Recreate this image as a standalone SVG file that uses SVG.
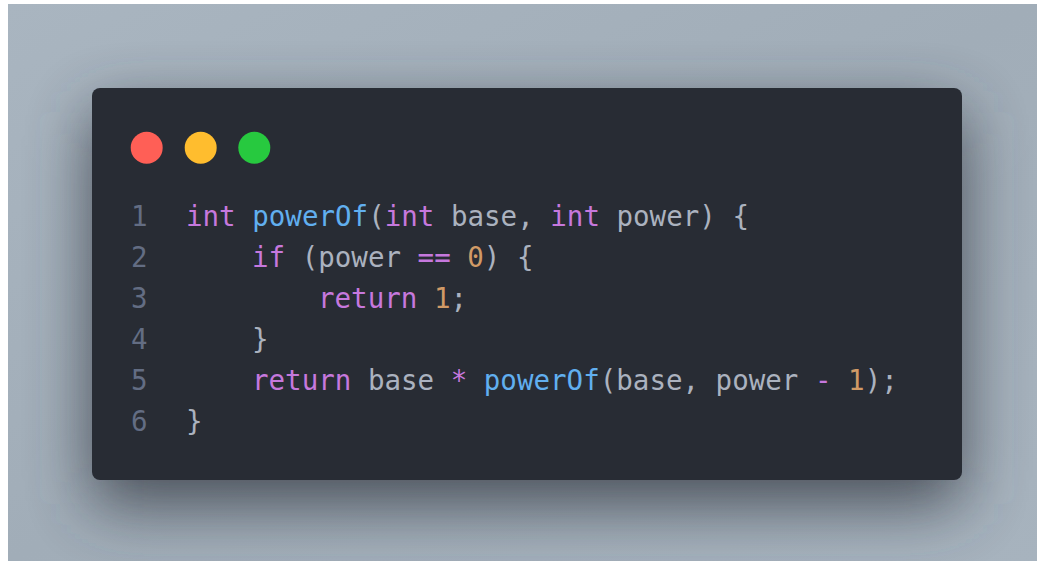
<svg xmlns="http://www.w3.org/2000/svg" width="1037" height="561" viewBox="0 0 1037 561">
  <style>
    .code { font-family: "DejaVu Sans Mono", "Liberation Mono", monospace; font-size: 27.5px; fill: #abb2bf; white-space: pre; }
    .ln { fill: #636d83; }
    .kw { fill: #c678dd; }
    .fn { fill: #61afef; }
    .num { fill: #d19a66; }
  </style>
  <defs>
    <linearGradient id="bg" x1="0" y1="0" x2="1" y2="1">
      <stop offset="0" stop-color="#a9b5c0"/>
      <stop offset="0.5" stop-color="#a1adb8"/>
      <stop offset="1" stop-color="#a7b3be"/>
    </linearGradient>
    <filter id="shadow" x="-30%" y="-30%" width="160%" height="170%">
      <feGaussianBlur stdDeviation="32"/>
    </filter>
  </defs>

  <!-- page background -->
  <rect x="0" y="0" width="1037" height="561" fill="#ffffff"/>
  <rect x="8" y="4" width="1029" height="557" fill="url(#bg)"/>

  <!-- window shadow -->
  <rect x="92" y="112" width="870" height="392" rx="12" fill="#383e46" opacity="0.85" filter="url(#shadow)"/>

  <!-- window -->
  <g id="window">
    <rect x="92" y="88" width="870" height="392" rx="8" fill="#282c34"/>
    <circle cx="146.7" cy="147.7" r="16" fill="#ff5f56"/>
    <circle cx="200.7" cy="147.7" r="16" fill="#ffbd2e"/>
    <circle cx="254.3" cy="147.7" r="16" fill="#27c93f"/>
  </g>

  <!-- source listing -->
  <g id="code" class="code" xml:space="preserve">
    <text class="ln" x="131" y="226">1</text>
    <text class="ln" x="131" y="267">2</text>
    <text class="ln" x="131" y="308">3</text>
    <text class="ln" x="131" y="349">4</text>
    <text class="ln" x="131" y="390">5</text>
    <text class="ln" x="131" y="431">6</text>

    <text x="186" y="226"><tspan class="kw">int</tspan> <tspan class="fn">powerOf</tspan>(<tspan class="kw">int</tspan> base, <tspan class="kw">int</tspan> power) {</text>
    <text x="252" y="267"><tspan class="kw">if</tspan> (power <tspan class="kw">==</tspan> <tspan class="num">0</tspan>) {</text>
    <text x="318" y="308"><tspan class="kw">return</tspan> <tspan class="num">1</tspan>;</text>
    <text x="252" y="349">}</text>
    <text x="252" y="390"><tspan class="kw">return</tspan> base <tspan class="kw">*</tspan> <tspan class="fn">powerOf</tspan>(base, power <tspan class="kw">-</tspan> <tspan class="num">1</tspan>);</text>
    <text x="186" y="431">}</text>
  </g>
</svg>
